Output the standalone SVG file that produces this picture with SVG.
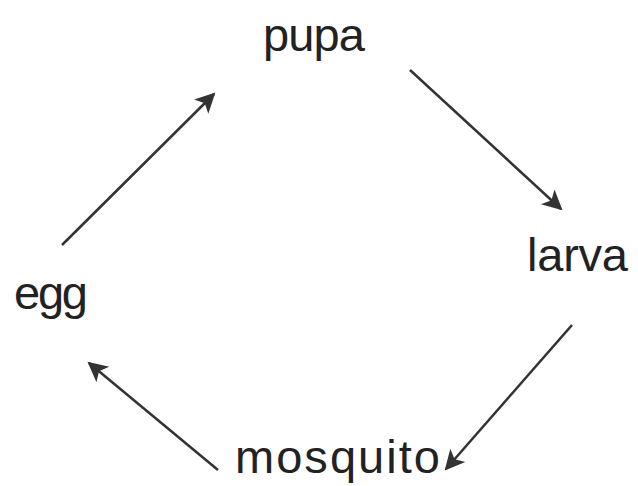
<svg xmlns="http://www.w3.org/2000/svg" width="638" height="486" viewBox="0 0 638 486">
<style>
.lbl{font-family:"Liberation Sans",Arial,sans-serif;font-size:47px;fill:#222}
.c{stroke:#333;stroke-width:2.5;fill:none;marker-end:url(#ah)}
</style>
<defs>
<marker id="ah" viewBox="0 0 10 10" refX="9" refY="5" markerWidth="9" markerHeight="8" markerUnits="strokeWidth" orient="auto">
<path d="M0,0 L10,5 L0,10 L2.5,5 Z" fill="#333"/>
</marker>
</defs>
<rect width="638" height="486" fill="#fff"/>
<g id="connectors">
<line class="c" x1="62" y1="245" x2="214" y2="94"/>
<line class="c" x1="410" y1="70" x2="561" y2="209"/>
<line class="c" x1="572" y1="325" x2="446" y2="469"/>
<line class="c" x1="218" y1="470" x2="89" y2="363"/>
</g>
<g id="pupa"><text class="lbl" x="263" y="51" textLength="102">pupa</text></g>
<g id="larva"><text class="lbl" x="527" y="271" textLength="101">larva</text></g>
<g id="mosquito"><text class="lbl" x="235" y="473" textLength="205">mosquito</text></g>
<g id="egg"><text class="lbl" x="14" y="309" textLength="74">egg</text></g>
</svg>
